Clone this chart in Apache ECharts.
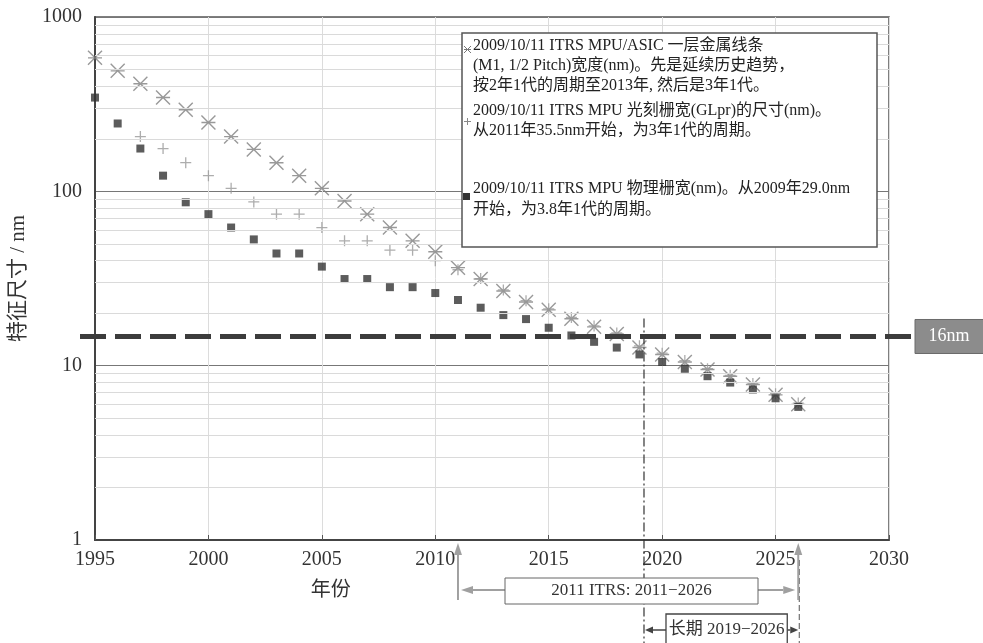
<!DOCTYPE html>
<html><head><meta charset="utf-8">
<script src="https://cdn.jsdelivr.net/npm/echarts@6/dist/echarts.min.js"></script>
<style>html,body{margin:0;padding:0;background:#fff}#c{width:983px;height:643px}</style>
</head><body><div id="c"></div>
<script>
// ---- data ----
const years = [1995,1996,1997,1998,1999,2000,2001,2002,2003,2004,2005,2006,2007,2008,2009,2010,2011,2012,2013,2014,2015,2016,2017,2018,2019,2020,2021,2022,2023,2024,2025,2026];
const m1HalfPitch = [583,491,414,345,294,248,206,174,146,123,104,88,74,62,52,45,36.5,31.4,26.8,23.2,20.9,18.6,16.7,15.2,12.7,11.6,10.5,9.5,8.7,7.8,6.8,6.0];
const glprYears = [1997,1998,1999,2000,2001,2002,2003,2004,2005,2006,2007,2008,2009,2010,2011,2012,2013,2014,2015,2016,2017,2018,2019,2020,2021,2022,2023,2024,2025,2026];
const glprSize = [206,176,146,123,104,87,74,74,62,52,52,46,46,40,35.5,31.6,27.2,23.6,21.2,18.9,16.9,15.4,13.0,11.8,10.7,9.6,8.8,7.9,6.9,6.1];
const physGate = [345,245,176,123,86.5,74,62,53,44,44,37,31.4,31.4,28.2,28.2,26.1,23.8,21.5,19.5,18.5,16.5,14.9,13.7,12.7,11.6,10.5,9.6,8.7,8.0,7.3,6.5,5.8];
const minorGridValues = [2,3,4,5,6,7,8,9,20,30,40,50,60,70,80,90,200,300,400,500,600,700,800,900];
const refLineValue = 14.7;
const refLineLabel = '16nm';
const longTermStart = 2019.2;
const itrsStart = 2011, itrsEnd = 2026;
const itrsLabel = '2011 ITRS: 2011\u22122026';
const longTermLabel = '长期 2019\u22122026';
const legendEntries = [
  ['2009/10/11 ITRS MPU/ASIC 一层金属线条', '(M1, 1/2 Pitch)宽度(nm)。先是延续历史趋势，', '按2年1代的周期至2013年, 然后是3年1代。'],
  ['2009/10/11 ITRS MPU 光刻栅宽(GLpr)的尺寸(nm)。', '从2011年35.5nm开始，为3年1代的周期。'],
  ['2009/10/11 ITRS MPU 物理栅宽(nm)。从2009年29.0nm', '开始，为3.8年1代的周期。']
];

const SERIF = '"Liberation Serif","Noto Sans CJK SC",serif';
const ASTER = 'path://M0,0L10,10M10,0L0,10M0,5L10,5';
const PLUS = 'path://M5,0L5,10M0,5L10,5';

const chart = echarts.init(document.getElementById('c'), null, {renderer:'canvas'});
const option = {
  animation:false,
  backgroundColor:'#fff',
  grid:{left:95,right:94,top:17,bottom:103,show:true,borderColor:'#555',borderWidth:1.5,backgroundColor:'transparent'},
  xAxis:{type:'value',min:1995,max:2030,interval:5,
    axisLine:{show:true,onZero:false,lineStyle:{color:'#444',width:2}},
    axisTick:{show:true,inside:true,length:5,lineStyle:{color:'#555'}},
    axisLabel:{fontFamily:SERIF,fontSize:20,color:'#333',margin:10,formatter:v=>String(v)},
    splitLine:{show:true,lineStyle:{color:'#dcdcdc',width:1}}},
  yAxis:{type:'log',logBase:10,min:1,max:1000,
    axisLine:{show:true,lineStyle:{color:'#444',width:2}},
    axisTick:{show:false},
    axisLabel:{fontFamily:SERIF,fontSize:20,color:'#333',margin:13,formatter:v=>String(Math.round(v))},
    splitLine:{show:true,lineStyle:{color:'#777',width:1}},
    name:'特征尺寸 / nm',nameLocation:'middle',nameGap:66,nameRotate:90,
    nameTextStyle:{fontFamily:SERIF,fontSize:21,color:'#333'}},
  series:[
    {type:'line',data:[],z:1,silent:true,
     markLine:{silent:true,symbol:['none','none'],label:{show:false},animation:false,
       lineStyle:{color:'#dadada',width:1,type:'solid'},
       data:minorGridValues.map(v=>({yAxis:v}))}},
    {name:'m1',type:'scatter',z:3,symbol:ASTER,symbolSize:14,
     itemStyle:{color:'transparent',borderColor:'#808080',borderWidth:1.4},
     data:years.map((y,i)=>[y,m1HalfPitch[i]])},
    {name:'glpr',type:'scatter',z:3,symbol:PLUS,symbolSize:11,
     itemStyle:{color:'transparent',borderColor:'#999',borderWidth:1.3},
     data:glprYears.map((y,i)=>[y,glprSize[i]])},
    {name:'phys',type:'scatter',z:4,symbol:'rect',symbolSize:8,
     itemStyle:{color:'#333'},
     data:years.map((y,i)=>[y,physGate[i]])}
  ]
};
chart.setOption(option);

const P = (x,y)=>chart.convertToPixel({gridIndex:0},[x,y]);
function arrow(x1,y1,x2,y2,color,w,hl,hw){
  const dx=x2-x1, dy=y2-y1, L=Math.hypot(dx,dy), ux=dx/L, uy=dy/L;
  const bx=x2-ux*hl, by=y2-uy*hl;
  return [
    {type:'line',z:20,shape:{x1,y1,x2:bx,y2:by},style:{stroke:color,lineWidth:w}},
    {type:'polygon',z:20,shape:{points:[[x2,y2],[bx-uy*hw,by+ux*hw],[bx+uy*hw,by-ux*hw]]},style:{fill:color}}
  ];
}
const g = [];
const yRef = P(1995, refLineValue)[1];
const xLeft = P(1995,1)[0], xRight = P(2030,1)[0];
g.push({type:'line',z:15,shape:{x1:xLeft-15,y1:yRef,x2:xRight+25,y2:yRef},style:{stroke:'#3c3c3c',lineWidth:5,lineDash:[26,9]}});
g.push({type:'rect',z:16,shape:{x:xRight+26,y:yRef-17,width:983-(xRight+26)+2,height:34},style:{fill:'#8c8c8c',stroke:'#6a6a6a',lineWidth:1}});
g.push({type:'text',z:17,x:(xRight+26+983)/2,y:yRef,style:{text:refLineLabel,font:'18px '+SERIF,fill:'#fff',align:'center',verticalAlign:'middle'}});
// long-term dash-dot vertical
const xLT = P(longTermStart,1)[0];
g.push({type:'line',z:14,shape:{x1:xLT,y1:yRef-18,x2:xLT,y2:643},style:{stroke:'#333',lineWidth:1.2,lineDash:[9,3,2,3]}});
const xS = P(itrsStart,1)[0], xE = P(itrsEnd,1)[0];
g.push({type:'line',z:14,shape:{x1:xE+1,y1:560,x2:xE+1,y2:643},style:{stroke:'#555',lineWidth:1,lineDash:[6,3]}});
// gray ITRS arrows
g.push(...arrow(xS,600,xS,543,'#a0a0a0',2,12,4));
g.push(...arrow(xE,600,xE,543,'#a0a0a0',2,12,4));
const bx1 = 505, bx2 = 758;
g.push(...arrow(bx1,590,xS+3,590,'#a0a0a0',2,12,4));
g.push(...arrow(bx2,590,xE-3,590,'#a0a0a0',2,12,4));
g.push({type:'rect',z:21,shape:{x:bx1,y:578,width:bx2-bx1,height:26},style:{fill:'#fff',stroke:'#666',lineWidth:1}});
g.push({type:'text',z:22,x:(bx1+bx2)/2,y:591,style:{text:itrsLabel,font:'17px '+SERIF,fill:'#333',align:'center',verticalAlign:'middle'}});
// long term box
const lb1 = xLT+22, lb2 = xE-11;
g.push({type:'rect',z:21,shape:{x:lb1,y:614,width:lb2-lb1,height:34},style:{fill:'#fff',stroke:'#444',lineWidth:1.3}});
g.push({type:'text',z:22,x:(lb1+lb2)/2,y:630,style:{text:longTermLabel,font:'17px '+SERIF,fill:'#333',align:'center',verticalAlign:'middle'}});
g.push(...arrow(lb1,630,xLT+1,630,'#444',1.5,8,3.5));
g.push(...arrow(lb2,630,xE,630,'#444',1.5,8,3.5));
// x axis name
const x2005 = P(2005,1)[0];
g.push({type:'text',z:22,x:x2005+9,y:591,style:{text:'年份',font:'20px '+SERIF,fill:'#333',align:'center',verticalAlign:'middle'}});
// legend box
g.push({type:'rect',z:30,shape:{x:462,y:33,width:415,height:214},style:{fill:'#fff',stroke:'#555',lineWidth:1.5}});
const lineYs = [[46,66,86],[111,131],[189,210]];
legendEntries.forEach((lines,i)=>{
  lines.forEach((t,j)=>{
    g.push({type:'text',z:31,x:473,y:lineYs[i][j],style:{text:t,font:'16px '+SERIF,fill:'#222',verticalAlign:'middle'}});
  });
});
// legend symbols
const ls = {stroke:'#777',lineWidth:1};
g.push({type:'line',z:31,shape:{x1:464,y1:46,x2:471,y2:53},style:ls});
g.push({type:'line',z:31,shape:{x1:471,y1:46,x2:464,y2:53},style:ls});
g.push({type:'line',z:31,shape:{x1:464,y1:49.5,x2:471,y2:49.5},style:ls});
g.push({type:'line',z:31,shape:{x1:467.5,y1:118,x2:467.5,y2:125},style:{stroke:'#888',lineWidth:1}});
g.push({type:'line',z:31,shape:{x1:464,y1:121.5,x2:471,y2:121.5},style:{stroke:'#888',lineWidth:1}});
g.push({type:'rect',z:31,shape:{x:463,y:193,width:7,height:7},style:{fill:'#333'}});
chart.setOption({graphic:g});
</script></body></html>
